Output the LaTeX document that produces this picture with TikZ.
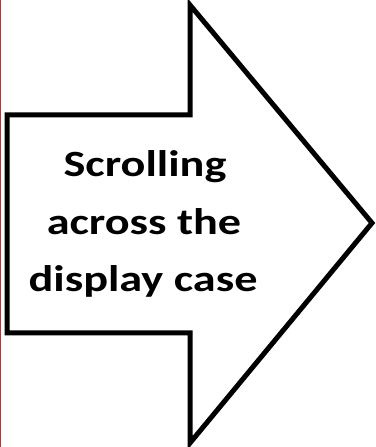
\documentclass[tikz,border=0pt]{standalone}
\usepackage{fontspec}
\setmainfont{Carlito}
\newfontfamily\lblfont[FakeStretch=1.25]{Carlito}
\begin{document}
\begin{tikzpicture}[x=1pt,y=1pt,
  arrowshape/.style={draw=black,line width=5pt,fill=white,line join=miter,miter limit=10},
  label/.style={font=\lblfont\bfseries\fontsize{37}{58}\selectfont,align=center,text=black,inner sep=0pt}]
\useasboundingbox (0,0) rectangle (375,447);
\fill[white] (0,0) rectangle (375,447);
\fill[red!70!black!80] (0,0) rectangle (1.2,447);
\draw[arrowshape] (7,332) -- (190,332) -- (190,442) -- (372,224) -- (190,4) -- (190,114) -- (7,114) -- cycle;
\node[label,anchor=base] (l1) at (145,270) {Scrolling};
\node[label,anchor=base] (l2) at (144,212) {across the};
\node[label,anchor=base] (l3) at (143,155) {display case};
\end{tikzpicture}
\end{document}
